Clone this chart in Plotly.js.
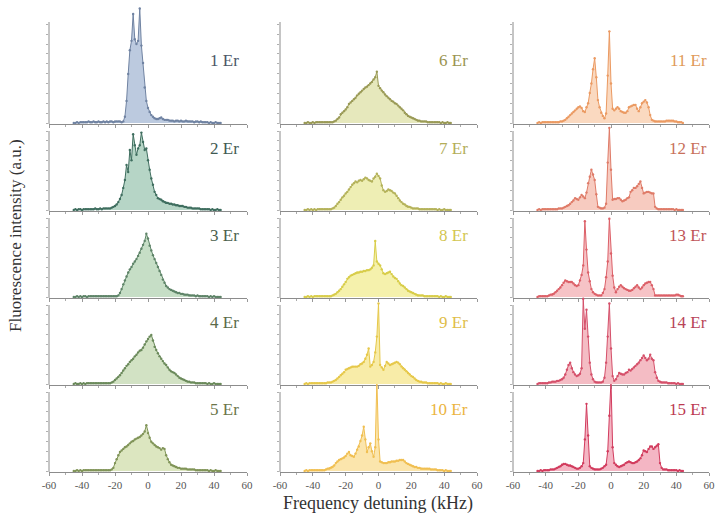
<!DOCTYPE html>
<html>
<head>
<meta charset="utf-8">
<script src="https://cdn.plot.ly/plotly-3.0.1.min.js"></script>
<style>
  html, body { margin: 0; padding: 0; background: #ffffff; }
  #chart { width: 716px; height: 521px; }
</style>
</head>
<body>
<div id="chart"></div>
<script>
// Frequency detuning grid (kHz), shared by all spectra
const detuning = [
  -45,-44,-43,-42,-41,-40,-39,-38,-37,-36,
  -35,-34,-33,-32,-31,-30,-29,-28,-27,-26,
  -25,-24,-23,-22,-21,-20,-19,-18,-17,-16,
  -15,-14,-13,-12,-11,-10,-9,-8,-7,-6,
  -5,-4,-3,-2,-1,0,1,2,3,4,
  5,6,7,8,9,10,11,12,13,14,
  15,16,17,18,19,20,21,22,23,24,
  25,26,27,28,29,30,31,32,33,34,
  35,36,37,38,39,40,41,42,43,44
];

// Fluorescence intensity (a.u.) for each number of Er ions
const er1 = [0,0,1,0,1,1,1,1,1,2, 1,1,2,1,1,2,1,1,2,1, 2,1,2,2,1,2,2,2,2,1, 2,8,28,62,92,104,138,106,100,104, 145,98,76,45,28,19,14,10,8,6, 5,5,6,7,5,4,4,4,3,3, 3,2,3,3,2,3,2,2,3,2, 2,2,2,1,2,2,1,2,1,1, 1,1,0,1,0,0,1,0,0,0];
const er2 = [0,1,0,1,1,0,1,1,1,1, 1,1,1,2,1,1,2,1,2,2, 2,2,2,3,4,5,7,10,14,19, 28,38,57,48,76,63,96,82,70,78, 82,98,86,76,78,63,51,40,32,23, 19,15,14,13,11,10,9,9,8,8, 7,7,6,6,5,5,5,4,4,3, 3,3,2,2,2,2,2,1,1,1, 1,1,1,0,1,0,0,1,0,0];
const er3 = [0,0,1,0,1,0,1,1,0,1, 1,1,1,1,1,1,1,1,1,1, 1,1,1,1,1,1,1,2,5,10, 16,21,26,31,35,38,42,45,48,52, 56,61,66,71,80,74,65,59,53,48, 43,38,33,28,22,18,14,12,10,9, 8,7,6,5,5,4,4,3,3,3, 2,2,2,2,1,2,1,1,1,1, 1,1,0,1,0,1,0,0,0,0];
const er4 = [0,1,0,0,1,0,1,0,1,1, 1,1,1,1,1,1,1,1,1,1, 1,1,1,2,3,5,7,9,11,14, 17,20,23,25,28,30,32,35,37,40, 42,43,46,50,54,57,60,62,55,47, 43,39,35,32,29,26,24,21,18,16, 15,14,12,10,8,7,6,5,4,3, 3,2,2,2,1,1,1,1,1,1, 1,0,1,0,0,1,0,0,0,0];
const er5 = [0,0,1,0,1,0,1,1,1,1, 1,1,1,1,1,1,1,1,1,1, 1,1,1,2,4,10,15,20,24,26, 28,30,31,33,35,37,38,40,41,42, 43,45,47,50,58,48,42,37,35,33, 31,30,29,27,29,28,20,15,11,8, 7,6,5,4,4,3,3,3,3,2, 2,2,2,2,1,1,1,1,1,1, 1,1,0,1,0,0,1,0,0,0];
const er6 = [0,0,1,0,0,1,0,1,1,1, 1,1,1,1,1,1,1,1,2,3, 5,7,11,13,15,17,20,24,26,28, 30,32,35,37,39,41,43,45,46,48, 50,52,55,58,65,47,44,41,39,36, 34,32,30,28,27,25,24,22,20,18, 16,13,11,9,8,7,6,5,4,3, 3,2,2,2,2,1,1,1,1,1, 1,1,1,0,1,0,0,1,0,0];
const er7 = [0,0,1,0,1,0,1,0,1,1, 1,1,1,1,1,1,1,2,3,5, 8,10,13,16,18,21,23,26,29,32, 34,36,35,37,38,37,39,41,40,38, 37,36,40,42,46,43,40,31,25,23, 24,26,25,24,22,21,18,15,12,10, 8,7,5,4,4,3,2,2,2,2, 1,1,1,1,1,1,1,1,1,1, 1,0,1,0,0,1,0,0,0,0];
const er8 = [0,0,1,0,1,0,1,1,1,1, 1,1,1,1,1,1,1,2,3,4, 6,8,10,13,16,19,23,25,27,28, 29,30,31,31,32,32,33,33,34,34, 35,37,40,71,45,42,40,35,30,29, 30,31,32,29,26,24,23,20,17,15, 14,12,10,8,7,6,5,4,3,2, 2,2,2,1,1,1,1,1,1,1, 1,1,0,1,0,0,1,0,0,0];
const er9 = [0,1,0,1,1,1,1,1,1,1, 1,1,1,1,2,2,2,3,4,5, 7,9,11,13,15,18,19,20,21,22, 22,22,22,23,25,26,28,32,37,45, 22,24,28,40,60,102,24,21,18,23, 28,26,24,25,26,27,28,27,25,22, 20,18,16,14,12,10,9,7,5,4, 3,3,2,2,2,1,1,1,1,1, 1,1,0,1,0,0,1,0,0,0];
const er10 = [0,1,0,1,1,1,1,1,1,1, 1,1,1,2,3,3,4,5,7,10, 12,14,15,16,17,19,22,24,20,19, 18,22,27,31,38,45,56,40,24,30, 35,25,18,30,115,40,12,11,10,10, 10,11,11,12,12,12,13,13,14,14, 14,12,10,9,8,7,6,5,5,4, 4,3,3,3,3,3,3,2,2,2, 2,1,1,1,1,0,1,0,0,0];
const er11 = [0,1,0,1,1,1,1,1,1,1, 1,1,1,1,2,2,3,4,6,8, 10,12,14,16,18,20,21,19,15,14, 20,25,38,50,68,82,58,29,20,13, 9,6,12,60,116,50,18,16,18,20, 18,15,14,13,13,15,20,21,22,23, 23,18,15,20,25,27,29,26,20,10, 4,3,2,2,2,2,2,2,2,3, 3,3,3,3,2,2,1,1,1,0];
const er12 = [0,1,0,1,1,1,1,1,1,1, 1,1,1,2,2,2,3,4,5,6, 8,10,12,15,14,13,16,19,17,15, 22,34,42,51,45,38,20,4,3,2, 2,3,8,60,104,51,13,14,14,15, 15,13,11,12,13,15,16,23,25,28, 28,30,33,36,28,21,22,23,23,22, 21,21,4,2,1,1,1,1,1,1, 1,1,1,1,0,1,0,0,0,0];
const er13 = [0,1,1,1,1,1,1,2,3,3, 4,6,8,10,12,15,18,21,20,19, 19,19,17,15,14,15,21,28,40,96, 60,31,20,10,6,4,3,2,2,2, 5,10,25,45,99,55,27,12,6,10, 13,15,13,11,10,9,8,8,9,11, 13,15,12,10,12,15,17,18,19,19, 15,10,2,2,2,2,2,2,2,2, 2,2,2,2,2,3,3,2,1,1];
const er14 = [0,1,1,1,1,1,1,2,2,3, 3,3,4,4,5,6,8,12,18,24, 27,20,15,12,10,11,13,20,108,70, 94,60,27,12,6,3,2,2,2,2, 3,8,27,60,102,45,10,4,6,10, 14,13,12,12,14,15,18,17,19,21, 23,25,27,30,33,36,33,30,32,37, 32,30,15,8,4,3,2,2,2,2, 1,1,1,1,1,0,1,0,0,0];
const er15 = [0,0,1,0,1,1,1,1,2,2, 2,3,4,5,6,8,9,9,8,7, 7,6,5,4,3,3,4,6,10,40, 85,45,6,4,3,2,2,2,2,3, 4,6,8,25,70,114,30,10,8,6, 5,6,7,8,10,11,12,11,10,10, 11,12,14,16,20,26,25,24,28,31, 31,28,30,32,34,10,4,2,2,2, 1,1,1,1,1,1,0,1,0,0];

const panelLabels = ['1 Er','2 Er','3 Er','4 Er','5 Er','6 Er','7 Er','8 Er','9 Er','10 Er','11 Er','12 Er','13 Er','14 Er','15 Er'];
const tickVals = [-60,-40,-20,0,20,40,60];
const tickText = ['-60','-40','-20','0','20','40','60'];

const lineColors = ['#7083a2','#3f6e5f','#5e8468','#6b8a5b','#809458','#9a9a56','#b4b25a','#d8cd4a','#e6c84a','#f0bf52','#eb9a62','#df7b68','#dc6068','#d5506a','#d23c5e'];
const fillColors = ['#bccadf','#b6d5c6','#c6dec6','#d2e2c4','#dce6c0','#e6e8bc','#eeeeb4','#f5f1ac','#f8eca8','#fbe5ac','#fad9c0','#f7cbc0','#f6c3c6','#f4bcc4','#f4b6c4'];
const labelColors = ['#4b5667','#3f5a52','#4b5f4d','#5a6a48','#6b7549','#9a9450','#b3ad58','#d3c650','#e0bd48','#ebb440','#e09a5a','#c8705a','#c05458','#b84458','#bc3a52'];

const series = [er1,er2,er3,er4,er5,er6,er7,er8,er9,er10,er11,er12,er13,er14,er15];

// Page geometry (pixels)
const W = 716, H = 521;
const colLeft = [49, 280, 513];
const colRight = [247, 477, 709];
const baseline = [123, 210, 297, 384, 471];
const domainTop = [6, 123, 210, 297, 384];
const axisHeight = [101, 79, 79, 79, 79];
const pxPerUnit = 0.79;
const labelX = [56.5, 56, 60];

const serif = 'Liberation Serif, Times New Roman, serif';
const traces = [];
const layout = {
  width: W, height: H,
  margin: {l: 0, r: 0, t: 0, b: 0},
  paper_bgcolor: '#ffffff',
  plot_bgcolor: 'rgba(0,0,0,0)',
  showlegend: false,
  font: {family: serif, color: '#333'},
  shapes: [],
  annotations: []
};

series.forEach((vals, i) => {
  const col = Math.floor(i / 5), row = i % 5, n = i + 1;
  const xr = n === 1 ? 'x' : 'x' + n;
  const yr = n === 1 ? 'y' : 'y' + n;
  const yBottom = -1 / pxPerUnit;
  const yTop = (baseline[row] - domainTop[row]) / pxPerUnit;
  const axisTop = axisHeight[row] / pxPerUnit;

  traces.push({
    type: 'scatter', mode: 'lines+markers',
    x: detuning, y: vals, xaxis: xr, yaxis: yr,
    fill: 'tozeroy', fillcolor: fillColors[i],
    line: {color: lineColors[i], width: 1},
    marker: {color: lineColors[i], size: 2.4},
    hoverinfo: 'x+y'
  });

  const yTicks = [];
  for (let v = 0; v <= axisTop + 0.01; v += 12.5) yTicks.push(v);

  layout[n === 1 ? 'xaxis' : 'xaxis' + n] = {
    domain: [colLeft[col] / W, colRight[col] / W],
    anchor: yr, range: [-60, 60],
    tickmode: 'array', tickvals: tickVals, ticktext: tickText,
    showticklabels: row === 4,
    tickfont: {size: 11, color: '#555', family: serif},
    ticks: 'outside', ticklen: 3, tickcolor: '#999', tickwidth: 1,
    minor: {tickmode: 'linear', tick0: -60, dtick: 10, ticks: 'outside', ticklen: 2, tickcolor: '#aaa'},
    showline: true, linecolor: '#8c8c8c', linewidth: 1,
    showgrid: false, zeroline: false, fixedrange: true
  };
  layout[n === 1 ? 'yaxis' : 'yaxis' + n] = {
    domain: [1 - (baseline[row] + 1) / H, 1 - domainTop[row] / H],
    anchor: xr, range: [yBottom, yTop],
    tickmode: 'array', tickvals: yTicks, showticklabels: false,
    ticks: 'outside', ticklen: 2, tickcolor: '#b0b0b0',
    showline: false, showgrid: false, zeroline: false, fixedrange: true
  };

  // vertical axis line of each panel
  layout.shapes.push({
    type: 'line', xref: xr + ' domain', yref: yr,
    x0: 0, x1: 0, y0: yBottom, y1: axisTop,
    line: {color: '#8c8c8c', width: 1}, layer: 'above'
  });

  layout.annotations.push({
    xref: xr, yref: yr, x: labelX[col], y: 62 / pxPerUnit,
    xanchor: 'right', yanchor: 'middle', showarrow: false,
    text: panelLabels[i],
    font: {family: serif, size: 17, color: labelColors[i]}
  });
});

layout.annotations.push({
  xref: 'paper', yref: 'paper', x: 378 / W, y: 1 - 503 / H,
  xanchor: 'center', yanchor: 'middle', showarrow: false,
  text: 'Frequency detuning (kHz)',
  font: {family: serif, size: 18, color: '#333'}
});
layout.annotations.push({
  xref: 'paper', yref: 'paper', x: 15 / W, y: 1 - 236 / H,
  xanchor: 'center', yanchor: 'middle', showarrow: false, textangle: -90,
  text: 'Fluorescence intensity (a.u.)',
  font: {family: serif, size: 17, color: '#333'}
});

Plotly.newPlot('chart', traces, layout, {displayModeBar: false, staticPlot: true});
</script>
</body>
</html>
